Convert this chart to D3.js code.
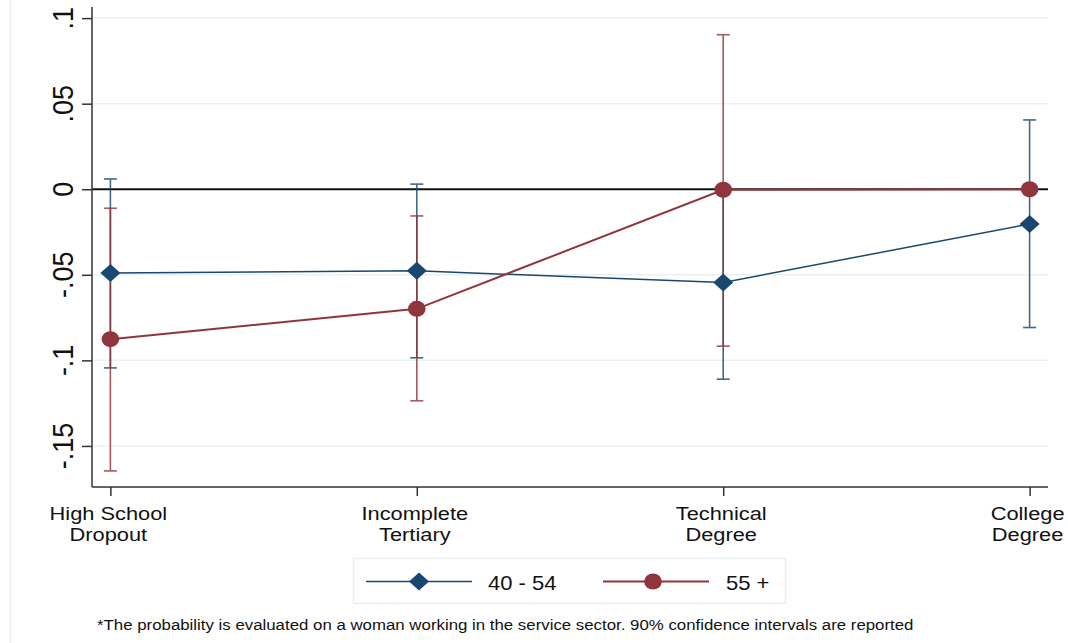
<!DOCTYPE html>
<html>
<head>
<meta charset="utf-8">
<script src="https://cdn.jsdelivr.net/npm/d3@7"></script>
<style>
  html, body { margin: 0; padding: 0; background: #ffffff; }
  svg { display: block; font-family: "Liberation Sans", Arial, sans-serif; }
</style>
</head>
<body>
<svg id="chart" width="1068" height="643"></svg>
<script>
// Education categories along the x axis (two-line labels)
const categories = ["hs", "inc", "tech", "col"];
const categoryLabels = [
  ["High School", "Dropout"],
  ["Incomplete", "Tertiary"],
  ["Technical", "Degree"],
  ["College", "Degree"]
];

// Age group 40 - 54: point estimates and 90% CI bounds
const est4054 = [-0.049, -0.0477, -0.0545, -0.0203];
const lo4054  = [-0.1044, -0.0985, -0.111, -0.0808];
const hi4054  = [0.006, 0.003, 0.002, 0.0405];

// Age group 55 +: point estimates and 90% CI bounds
const est55 = [-0.0876, -0.0699, -0.0003, 0.0];
const lo55  = [-0.1646, -0.1236, -0.0917, 0.0];
const hi55  = [-0.0111, -0.0156, 0.0903, 0.0];

// Y ticks and their labels
const yTicks = [-0.15, -0.1, -0.05, 0, 0.05, 0.1];
const yTickLabels = ["-.15", "-.1", "-.05", "0", ".05", ".1"];

const seriesNames = ["40 - 54", "55 +"];
const footnote = "*The probability is evaluated on a woman working in the service sector. 90% confidence intervals are reported";

const BLUE = "#1a476f";
const RED = "#90353b";
const GRID = "#eaf1f3";
const SX = 1.1; // horizontal text stretch

const svg = d3.select("#chart");

// outer region edge
svg.append("line").attr("x1", 10.5).attr("x2", 10.5).attr("y1", 0).attr("y2", 643)
  .attr("stroke", "#e8eff1").attr("stroke-width", 1.5);

const x = d3.scalePoint().domain(categories).range([92, 1048]).padding(0.06);
const y = d3.scaleLinear().domain([-0.174, 0.1065]).range([487, 7]);

// horizontal grid lines
svg.append("g").selectAll("line")
  .data(yTicks.filter(t => t !== 0))
  .join("line")
  .attr("x1", 92).attr("x2", 1048)
  .attr("y1", d => y(d)).attr("y2", d => y(d))
  .attr("stroke", GRID).attr("stroke-width", 1.5);

// zero reference line
svg.append("line").attr("x1", 92).attr("x2", 1048)
  .attr("y1", y(0)).attr("y2", y(0))
  .attr("stroke", "#111").attr("stroke-width", 2);

// y axis
const yAxis = svg.append("g").attr("transform", "translate(92,0)")
  .call(d3.axisLeft(y).tickValues(yTicks).tickSize(10).tickFormat(""));
yAxis.select(".domain").attr("d", `M0,${y.range()[1]}V${y.range()[0]}`)
  .attr("stroke", "#333").attr("stroke-width", 1.5);
yAxis.selectAll(".tick line").attr("stroke", "#333").attr("stroke-width", 1.5);

svg.append("g").selectAll("text")
  .data(yTicks)
  .join("text")
  .attr("transform", d => `translate(73,${y(d)}) scale(${SX},1) rotate(-90)`)
  .attr("text-anchor", "middle")
  .attr("font-size", 27)
  .attr("fill", "#111")
  .text((d, i) => yTickLabels[i]);

// x axis
const xAxis = svg.append("g").attr("transform", "translate(0,487)")
  .call(d3.axisBottom(x).tickSize(9).tickSizeOuter(0).tickFormat(""));
xAxis.select(".domain").attr("d", "M92,0H1048").attr("stroke", "#333").attr("stroke-width", 1.5);
xAxis.selectAll(".tick line").attr("stroke", "#333").attr("stroke-width", 1.5);

// category labels: two lines each
svg.append("g").selectAll("text")
  .data(categories)
  .join("text")
  .attr("transform", d => `translate(${x(d) - 2},520) scale(1.18,1)`)
  .attr("text-anchor", "middle")
  .attr("font-size", 18.5)
  .attr("fill", "#111")
  .each(function(d, i) {
    const t = d3.select(this);
    categoryLabels[i].forEach((ln, k) => {
      t.append("tspan").attr("x", 0).attr("dy", k === 0 ? 0 : 21).text(ln);
    });
  });

// error bars with caps
function ciBars(lo, hi, color) {
  const g = svg.append("g").attr("stroke", color).attr("stroke-width", 1.6).attr("opacity", 0.82);
  categories.forEach((c, i) => {
    if (lo[i] === hi[i]) return;
    const cx = x(c);
    g.append("line").attr("x1", cx).attr("x2", cx).attr("y1", y(lo[i])).attr("y2", y(hi[i]));
    g.append("line").attr("x1", cx - 6.5).attr("x2", cx + 6.5).attr("y1", y(lo[i])).attr("y2", y(lo[i]));
    g.append("line").attr("x1", cx - 6.5).attr("x2", cx + 6.5).attr("y1", y(hi[i])).attr("y2", y(hi[i]));
  });
}
ciBars(lo4054, hi4054, BLUE);
ciBars(lo55, hi55, RED);

const line = d3.line().x((d, i) => x(categories[i])).y(d => y(d));

// 40 - 54 series
svg.append("path").datum(est4054).attr("d", line)
  .attr("fill", "none").attr("stroke", BLUE).attr("stroke-width", 1.5);
const diamond = (cx, cy) => `M${cx - 10},${cy}L${cx},${cy - 9}L${cx + 10},${cy}L${cx},${cy + 9}Z`;
svg.append("g").selectAll("path")
  .data(est4054)
  .join("path")
  .attr("d", (d, i) => diamond(x(categories[i]), y(d)))
  .attr("fill", BLUE);

// 55 + series
svg.append("path").datum(est55).attr("d", line)
  .attr("fill", "none").attr("stroke", RED).attr("stroke-width", 2);
svg.append("g").selectAll("ellipse")
  .data(est55)
  .join("ellipse")
  .attr("cx", (d, i) => x(categories[i]))
  .attr("cy", d => y(d))
  .attr("rx", 8.8).attr("ry", 8)
  .attr("fill", RED);

// legend
const lg = svg.append("g");
lg.append("rect").attr("x", 353.5).attr("y", 558.5).attr("width", 432).attr("height", 45)
  .attr("fill", "#fff").attr("stroke", "#e8eff1").attr("stroke-width", 1.5);
const legendY = 581.5;
lg.append("line").attr("x1", 366).attr("x2", 472).attr("y1", legendY).attr("y2", legendY)
  .attr("stroke", BLUE).attr("stroke-width", 1.5);
lg.append("path").attr("d", diamond(419, legendY)).attr("fill", BLUE);
lg.append("text").attr("transform", `translate(488,590) scale(${SX},1)`)
  .attr("font-size", 20).attr("fill", "#111").text(seriesNames[0]);
lg.append("line").attr("x1", 603).attr("x2", 709).attr("y1", legendY).attr("y2", legendY)
  .attr("stroke", RED).attr("stroke-width", 2);
lg.append("ellipse").attr("cx", 653).attr("cy", legendY).attr("rx", 8.8).attr("ry", 8).attr("fill", RED);
lg.append("text").attr("transform", `translate(726,590) scale(${SX},1)`)
  .attr("font-size", 20).attr("fill", "#111").text(seriesNames[1]);

// footnote
svg.append("text").attr("transform", `translate(97,630) scale(${SX},1)`)
  .attr("font-size", 15.3).attr("fill", "#111").text(footnote);
</script>
</body>
</html>
